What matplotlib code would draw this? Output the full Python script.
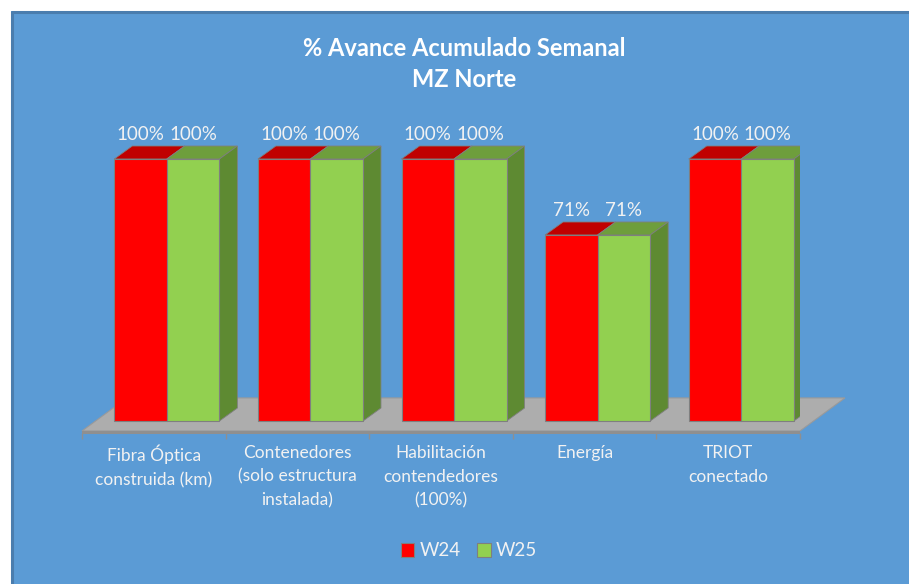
import matplotlib
matplotlib.use("Agg")
import matplotlib.pyplot as plt
from matplotlib.patches import Polygon, Rectangle
from matplotlib.lines import Line2D

# ================================
# DATA
# ================================
categories = [
    "Fibra Óptica\nconstruida (km)",
    "Contenedores\n(solo estructura\ninstalada)",
    "Habilitación\ncontendedores\n(100%)",
    "Energía",
    "TRIOT\nconectado",
]
w24 = [100, 100, 100, 71, 100]
w25 = [100, 100, 100, 71, 100]
series_names = ["W24", "W25"]

# ================================
# STYLE
# ================================
plt.rcParams["font.family"] = ["Lato", "DejaVu Sans"]
BG = "#5B9BD5"
TXT = "#F2F2F2"
EDGE = "#7F7F7F"
colors = {
    "W24": ("#FF0000", "#C00000", "#B00000"),   # front, top, side
    "W25": ("#92D050", "#6E9E3C", "#5E8A32"),
}

W, H = 909, 584
fig = plt.figure(figsize=(W / 100, H / 100), dpi=100)
fig.patch.set_facecolor("white")
fig.patches.append(Rectangle((11 / W, 0), 1 - 11 / W, 1 - 11 / H,
                             transform=fig.transFigure, facecolor=BG,
                             edgecolor="none", zorder=-5))
fig.lines.append(Line2D([12 / W, 12 / W, 1], [0, 1 - 12 / H, 1 - 12 / H],
                        transform=fig.transFigure, color="#4A7DAE",
                        linewidth=2.2, zorder=-4))

# axes placed so that 0% sits on the floor and 100% at the bar tops
ymin, ymax = -8, 115
px_per_pct = 2.62
y0_px = 421
bottom_px = y0_px - ymin * px_per_pct
top_px = y0_px - ymax * px_per_pct
ax = fig.add_axes([82 / W, 1 - bottom_px / H, 718 / W, (bottom_px - top_px) / H])
ax.set_zorder(2)
ax.set_xlim(-0.5, len(categories) - 0.5)
ax.set_ylim(ymin, ymax)
ax.set_facecolor("none")
for s in ax.spines.values():
    s.set_visible(False)
ax.set_yticks([])

# ================================
# FLOOR
# ================================
fdx, fdy = 0.313, 12.6
front = -3.8
n = len(categories)
ax.add_patch(Polygon([(-0.5, front), (n - 0.5, front),
                      (n - 0.5 + fdx, front + fdy), (-0.5 + fdx, front + fdy)],
                     closed=True, facecolor="#ADADAD", edgecolor="#9A9A9A",
                     linewidth=0.8, zorder=1, clip_on=False))
ax.add_patch(Rectangle((-0.5, front - 1.0), n, 1.0, facecolor="#8F8F8F",
                       edgecolor="none", zorder=1, clip_on=False))
ax.vlines([i - 0.5 for i in range(n + 1)], front - 3.0, front - 0.8,
          color="#8F8F8F", linewidth=1, zorder=1, clip_on=False)

# ================================
# BARS (pseudo 3D)
# ================================
bw = 0.366
ddx, ddy = 0.125, 4.96
offsets = {"W24": -0.275, "W25": -0.275 + bw}
z = 2
handles = []
for name, vals in (("W24", w24), ("W25", w25)):
    fc, tc, sc = colors[name]
    for i, v in enumerate(vals):
        x = i + offsets[name]
        ax.add_patch(Polygon([(x, v), (x + bw, v), (x + bw + ddx, v + ddy), (x + ddx, v + ddy)],
                             closed=True, facecolor=tc, edgecolor=EDGE, linewidth=0.6, zorder=z))
        ax.add_patch(Polygon([(x + bw, 0), (x + bw + ddx, ddy), (x + bw + ddx, v + ddy), (x + bw, v)],
                             closed=True, facecolor=sc, edgecolor=EDGE, linewidth=0.6, zorder=z))
        ax.text(x + bw / 2, v + ddy + 1.0, f"{v}%", ha="center", va="bottom",
                color=TXT, fontsize=13.5, zorder=10)
    bars = ax.bar([i + offsets[name] for i in range(n)], vals, width=bw, align="edge",
                  color=fc, edgecolor=EDGE, linewidth=0.8, zorder=z + 1, label=name)
    handles.append(bars)
    z += 2

# ================================
# LABELS
# ================================
ax.set_xticks(range(n))
ax.set_xticklabels(categories, color=TXT, fontsize=12.5, linespacing=1.6)
ax.tick_params(axis="x", length=0, pad=2)

fig.text(464 / W, 1 - 64 / H, "% Avance Acumulado Semanal\nMZ Norte", ha="center",
         va="center", color="white", fontsize=17, fontweight="bold", linespacing=1.45)

fig.legend(handles=handles, labels=series_names, loc="center", ncol=2,
           bbox_to_anchor=(469 / W, 1 - 551 / H), frameon=False, fontsize=13.5,
           labelcolor=TXT, handlelength=0.7, handleheight=0.7, handletextpad=0.3,
           columnspacing=0.9)

fig.savefig("out.png", dpi=100, facecolor=fig.get_facecolor())
